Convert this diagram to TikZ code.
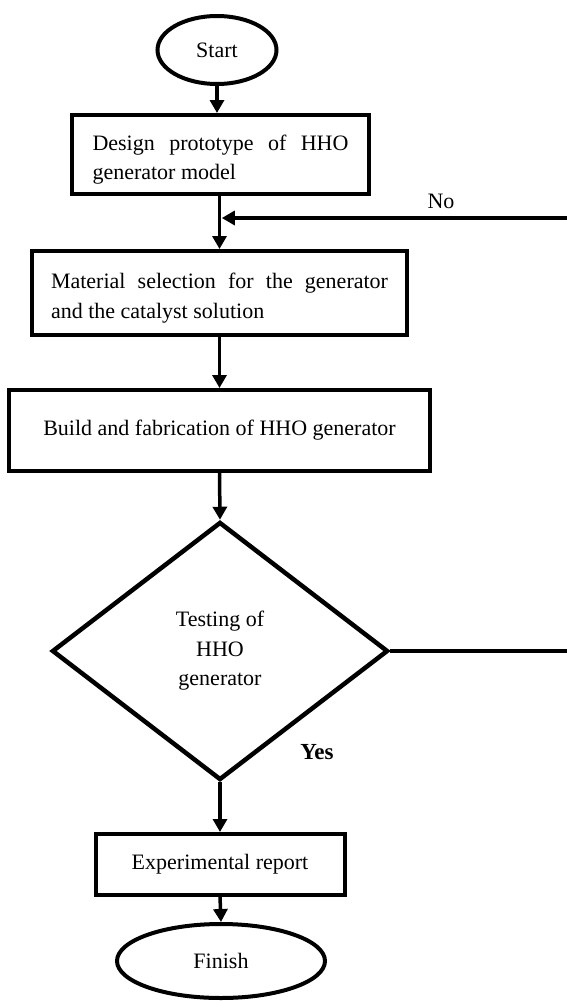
\documentclass[tikz,border=0pt]{standalone}
\usepackage{fontspec}
\setmainfont{Liberation Serif}
\usetikzlibrary{shapes.geometric,arrows.meta,calc}
\newcommand{\boxtext}[2]{\parbox[c]{#1}{\vspace*{10pt}#2}}
\begin{document}
\begin{tikzpicture}[x=1pt,y=-1pt,
  txt/.style={font=\fontsize{22}{29.5}\selectfont},
  box/.style={txt, draw, rectangle, line width=4pt, inner sep=0pt},
  term/.style={txt, draw, ellipse, line width=4pt, inner sep=0pt},
  decision/.style={txt, draw, diamond, line width=4.5pt, inner sep=0pt, align=center},
  conn/.style={line width=3.5pt, -{Triangle[length=13pt,width=14pt]}},
  lbl/.style={txt}
]
\useasboundingbox (0,0) rectangle (567,1001);
\clip (0,0) rectangle (567,1001);

\node[term, minimum width=119pt, minimum height=68pt] (start) at (217,50) {Start};
\node[box, minimum width=297pt, minimum height=79pt] (design) at (220.5,154.5) {\boxtext{256pt}{Design prototype of HHO generator model}};
\node[box, minimum width=375pt, minimum height=84pt] (material) at (219.5,293) {\boxtext{337pt}{Material selection for the generator and the catalyst solution}};
\node[box, minimum width=421pt, minimum height=81pt] (build) at (219.5,430.5) {Build and fabrication of HHO generator};
\node[decision, minimum width=336pt, minimum height=258pt] (test) at (220,651) {Testing of\\HHO\\generator};
\node[box, minimum width=249pt, minimum height=61pt] (report) at (220,864.5) {Experimental report};
\node[term, minimum width=208pt, minimum height=74pt] (finish) at (221,961) {Finish};

\node[lbl] (no) at (441,201) {No};
\node[lbl, font=\fontsize{23}{28}\selectfont\bfseries] (yes) at (317,752) {Yes};

\coordinate (join) at (220,218);
\coordinate (loop) at (580,651);

\draw[conn] (start.south) -- (start.south |- design.north);
\draw[conn] (design.south -| material.north) -- (material.north);
\draw[conn] (material.south) -- (build.north);
\draw[conn] (build.south) -- (test.north);
\draw[conn] (test.south) -- (report.north);
\draw[conn] (report.south) -- (finish.north);
\draw[conn, shorten >=1.8pt] (test.east) -- (loop) |- (join);
\end{tikzpicture}
\end{document}
